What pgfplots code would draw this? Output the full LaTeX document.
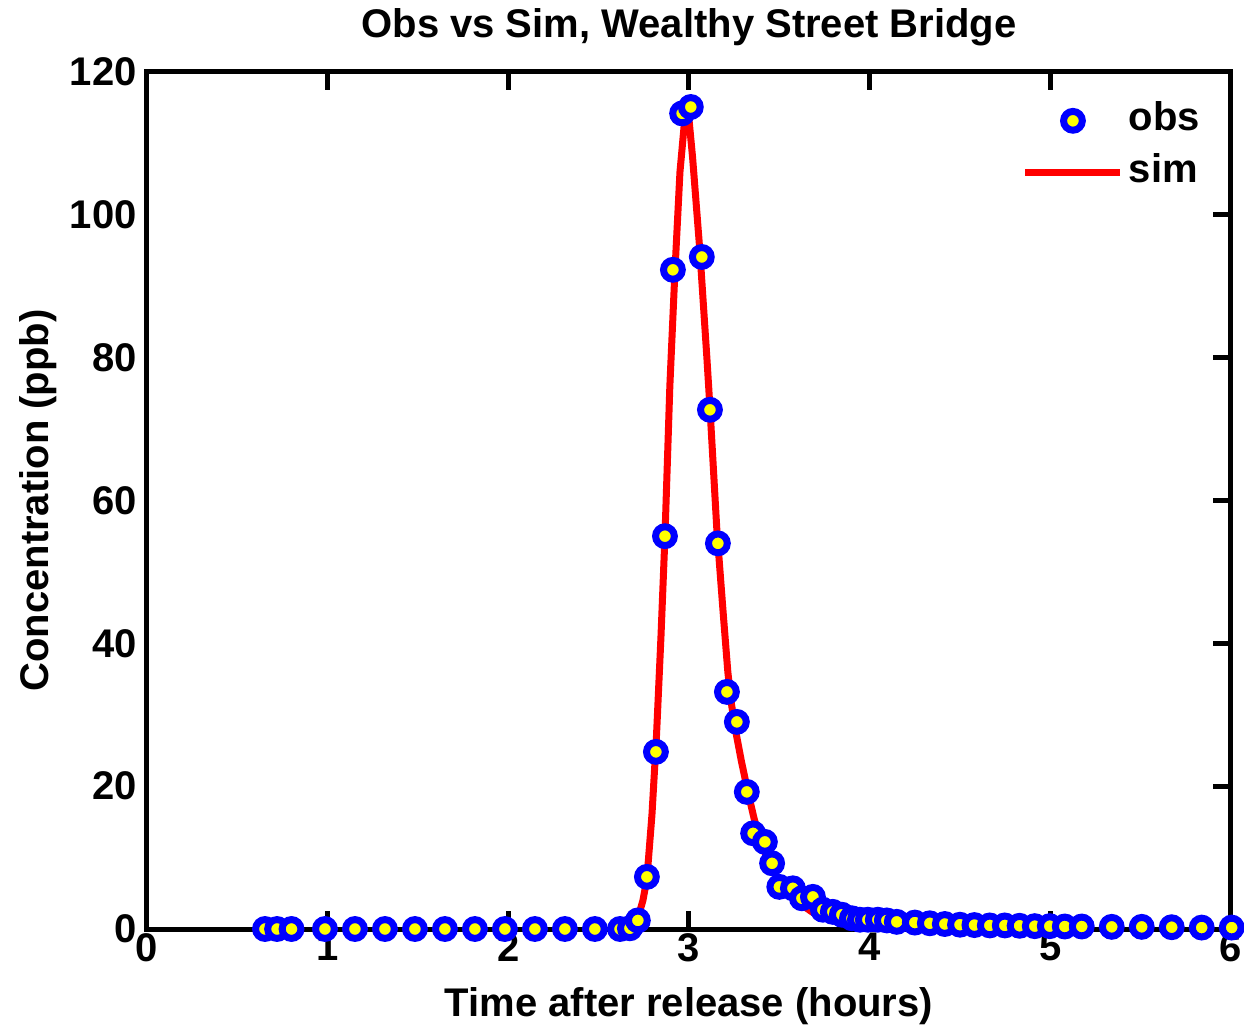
\documentclass[border=0pt]{standalone}
\usepackage{fontspec}
\setmainfont{Liberation Sans}
\usepackage{pgfplots}
\pgfplotsset{compat=1.18}
\definecolor{obsblue}{RGB}{0,0,255}
\definecolor{obsyellow}{RGB}{255,255,0}
\definecolor{simred}{RGB}{255,0,0}
\newcommand{\lblfont}{\fontsize{20}{22}\selectfont\bfseries}
\pgfplotsset{
  simlegend/.style={legend image code/.code={\draw[##1] (0pt,0pt) -- (47.5pt,0pt);}},
}
\begin{document}
\begin{tikzpicture}
\begin{axis}[
  scale only axis, width=542pt, height=428.5pt,
  xmin=0, xmax=6, ymin=0, ymax=120,
  xtick={0,1,...,6}, ytick={0,20,...,120},
  axis on top, clip=false,
  axis line style={line width=2.5pt, black},
  major tick length=9pt,
  major tick style={line width=2.5pt, black},
  tick align=inside,
  ytick pos=right, yticklabel pos=left,
  xtick pos=both, xticklabel pos=bottom,
  /pgf/number format/assume math mode=true,
  ticklabel style={font=\lblfont},
  xticklabel style={inner sep=2pt},
  yticklabel style={inner sep=5pt},
  title={Obs vs Sim, Wealthy Street Bridge},
  title style={font=\lblfont, at={(axis description cs:0.5,1.0548)}, anchor=center, yshift=-7pt},
  xlabel={Time after release (hours)},
  xlabel style={font=\lblfont, at={(axis description cs:0.5,-0.0905)}, anchor=center},
  ylabel={Concentration (ppb)},
  ylabel style={font=\lblfont, at={(axis description cs:-0.1005,0.5)}, anchor=center},
  legend style={draw=none, fill=none, at={(axis description cs:0.982,0.975)}, anchor=north east,
    font=\lblfont, row sep=3pt, nodes={text height=14pt, text depth=4pt, inner sep=2.5pt}},
  legend cell align=left,
]
\addplot[only marks, mark=*, mark size=4.7pt,
  mark options={draw=obsblue, fill=obsyellow, line width=3.5pt},
  legend image code/.code={\path[draw=none,fill=none] (0pt,0pt) -- (47.5pt,0pt);
     \draw[mark=*, mark size=4.7pt, mark options={draw=obsblue, fill=obsyellow, line width=3.5pt}] plot coordinates {(23.75pt,0pt)};}]
coordinates {
(0.653,0) (0.72,0) (0.80,0) (0.985,0) (1.151,0) (1.317,0) (1.483,0) (1.649,0)
(1.815,0) (1.981,0) (2.147,0) (2.313,0) (2.479,0) (2.618,0) (2.673,0.1) (2.717,1.2)
(2.767,7.3) (2.817,24.8) (2.867,55) (2.911,92.3) (2.962,114.2) (3.01,115.1)
(3.071,94.1) (3.116,72.7) (3.16,54) (3.21,33.2) (3.265,29) (3.32,19.2) (3.355,13.4)
(3.42,12.2) (3.46,9.2) (3.50,5.9) (3.575,5.7) (3.625,4.3) (3.686,4.5) (3.741,2.7)
(3.796,2.4) (3.846,2.0) (3.902,1.5) (3.946,1.3) (3.99,1.3) (4.045,1.3) (4.095,1.2)
(4.15,1.0) (4.25,0.9) (4.333,0.8) (4.416,0.7) (4.5,0.6) (4.58,0.55) (4.665,0.5)
(4.748,0.5) (4.83,0.45) (4.914,0.4) (4.997,0.4) (5.08,0.35) (5.174,0.35) (5.34,0.3)
(5.506,0.3) (5.672,0.25) (5.838,0.2) (6.004,0.2)
};
\addlegendentry{obs}
\addplot[simred, line width=3.5pt, mark=none, line join=round, simlegend]
coordinates {
(2.60,0) (2.66,0.1) (2.69,0.5) (2.72,1.8) (2.745,4) (2.767,7) (2.795,16) (2.82,27)
(2.845,41) (2.867,55) (2.894,76) (2.922,92) (2.95,106) (2.975,113) (2.994,115)
(3.02,108) (3.06,95) (3.099,80) (3.116,73) (3.154,56) (3.19,44) (3.215,36) (3.235,31.5)
(3.26,27.5) (3.29,23.5) (3.326,19.2) (3.36,15.5) (3.392,12.5) (3.45,8.8) (3.52,5.9)
(3.60,3.8) (3.686,2.3) (3.78,1.4) (3.874,0.85) (3.95,0.55) (4.05,0.3) (4.2,0.12)
(4.5,0.03) (5.0,0)
};
\addlegendentry{sim}
\end{axis}
\pgfresetboundingbox
\path[use as bounding box] (current axis.south west) ++(-73.5pt,-50.5pt) rectangle ++(622pt,515pt);
\end{tikzpicture}
\end{document}
